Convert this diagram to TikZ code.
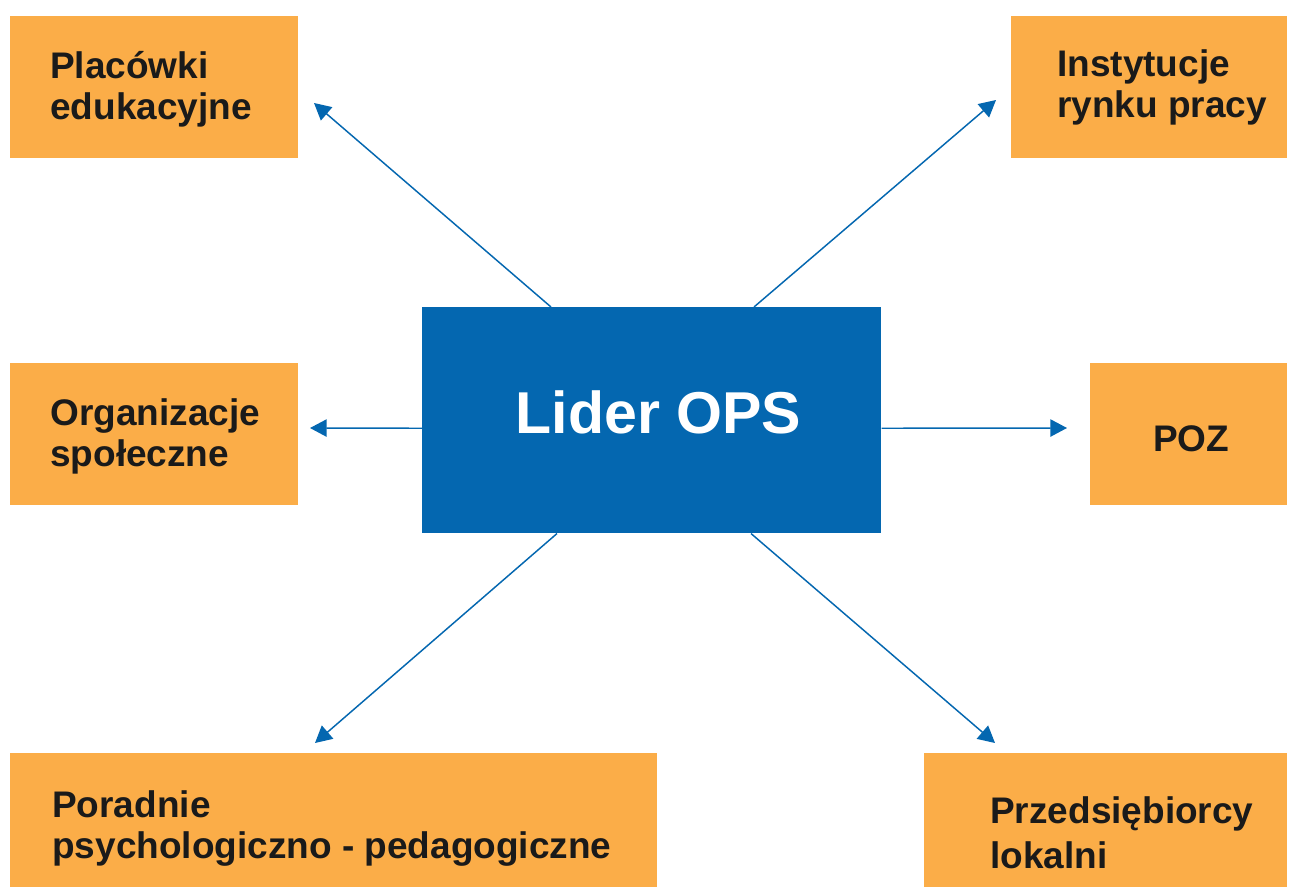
\documentclass[tikz,border=0pt]{standalone}
\usepackage{fontspec}
\setmainfont{Liberation Sans}
\usetikzlibrary{arrows.meta}
\definecolor{boxorange}{HTML}{FBAD48}
\definecolor{liderblue}{HTML}{0467B0}
\definecolor{txtdark}{HTML}{1A1A1A}
\begin{document}
\begin{tikzpicture}[x=0.75pt,y=-0.75pt,
  orangebox/.style={draw=none,fill=boxorange,rectangle,inner sep=0pt,anchor=north west},
  bluebox/.style={draw=none,fill=liderblue,rectangle,inner sep=0pt,anchor=north west},
  boxtext/.style={inner sep=0pt,anchor=base west,align=left,text=txtdark,
    font=\fontsize{27.75}{30.75}\selectfont\bfseries},
  link/.style={draw=liderblue,line width=1.1pt,-{Triangle[length=12.5pt,width=13pt]}}]
\useasboundingbox (0,0) rectangle (1289,887);
\fill[white] (0,0) rectangle (1289,887);
% boxes
\node[orangebox,minimum width=216pt,minimum height=106.5pt] (ple) at (10,16) {};
\node[orangebox,minimum width=207pt,minimum height=106.5pt] (irp) at (1011,16) {};
\node[bluebox,minimum width=344.25pt,minimum height=169.5pt] (lider) at (422,307) {};
\node[orangebox,minimum width=216pt,minimum height=106.5pt] (org) at (10,363) {};
\node[orangebox,minimum width=147.75pt,minimum height=106.5pt] (poz) at (1090,363) {};
\node[orangebox,minimum width=485.25pt,minimum height=100.5pt] (por) at (10,753) {};
\node[orangebox,minimum width=272.25pt,minimum height=100.5pt] (prz) at (924,753) {};
% texts (base anchor = baseline of the last line)
\node[boxtext] (tple) at (50,120) {Placówki\\edukacyjne};
\node[boxtext] (tirp) at (1057,118) {Instytucje\\rynku pracy};
\node[boxtext] (torg) at (50,467) {Organizacje\\społeczne};
\node[boxtext] (tpoz) at (1153,452) {POZ};
\node[boxtext] (tpor) at (52,858) {Poradnie\\psychologiczno - pedagogiczne};
\node[boxtext,font=\fontsize{27.75}{33.75}\selectfont\bfseries] (tprz) at (990,868) {Przedsiębiorcy\\lokalni};
\node[inner sep=0pt,anchor=base,text=white,font=\fontsize{44.3}{50}\selectfont\bfseries] (tlider) at (658.5,434) {Lider OPS};
% arrow ends
\coordinate (eple) at (314,103);
\coordinate (eirp) at (996,100);
\coordinate (eorg) at (310,428);
\coordinate (epoz) at (1067,428);
\coordinate (epor) at (315,743);
\coordinate (eprz) at (995,743);
% connectors
\draw[link] ([xshift=96.75pt]lider.north west) -- (eple);
\draw[link] ([xshift=249pt]lider.north west) -- (eirp);
\draw[link] ([yshift=-6pt]lider.west) -- (eorg);
\draw[link] ([yshift=-6pt]lider.east) -- (epoz);
\draw[link] ([xshift=101.25pt]lider.south west) -- (epor);
\draw[link] ([xshift=246.75pt]lider.south west) -- (eprz);
\end{tikzpicture}
\end{document}
